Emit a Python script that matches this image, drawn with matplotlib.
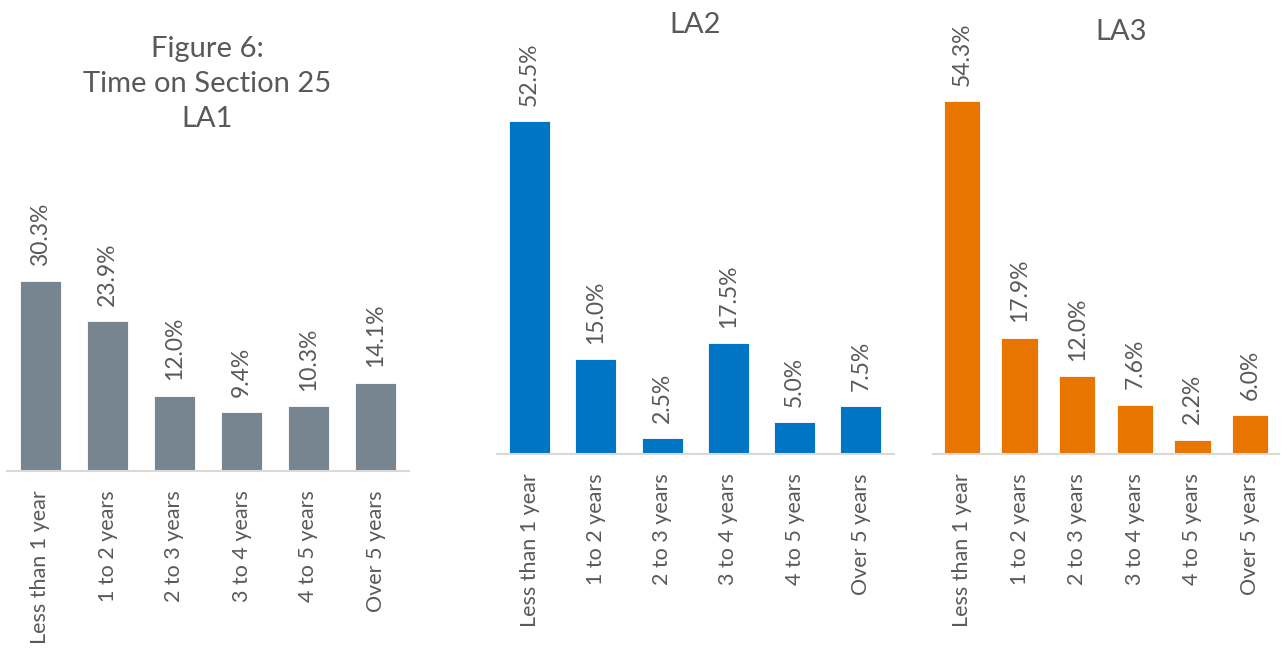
import matplotlib
matplotlib.use("Agg")
import matplotlib.pyplot as plt

categories = ["Less than 1 year", "1 to 2 years", "2 to 3 years",
              "3 to 4 years", "4 to 5 years", "Over 5 years"]
la1_values = [30.3, 23.9, 12.0, 9.4, 10.3, 14.1]
la2_values = [52.5, 15.0, 2.5, 17.5, 5.0, 7.5]
la3_values = [54.3, 17.9, 12.0, 7.6, 2.2, 6.0]

W, H = 1281, 650
fig = plt.figure(figsize=(W / 100, H / 100), dpi=100)
plt.rcParams['font.family'] = ['Lato', 'DejaVu Sans']
TXT = '#595959'

def px_axes(left, right, baseline, ppu, ymax=60):
    height = ppu * ymax
    return fig.add_axes([left / W, (H - baseline) / H, (right - left) / W, height / H])

panels = [
    (la1_values, '#778591', (7, 409, 471, 6.27), 0.625),
    (la2_values, '#0075C6', (496.5, 894, 454, 6.34), 0.62),
    (la3_values, '#E87500', (933, 1279, 454, 6.5), 0.63),
]

for vals, color, (l, r, b, ppu), bw in panels:
    ax = px_axes(l, r, b, ppu)
    x = list(range(len(categories)))
    ax.bar(x, vals, width=bw, color=color, edgecolor='white', linewidth=0.6, zorder=2)
    ax.set_xlim(-0.5, len(categories) - 0.5)
    ax.set_ylim(0, 60)
    for s in ['top', 'right', 'left']:
        ax.spines[s].set_visible(False)
    ax.spines['bottom'].set_color('#D9D9D9')
    ax.spines['bottom'].set_linewidth(1.5)
    ax.set_yticks([])
    ax.set_xticks(x)
    ax.set_xticklabels(categories, rotation=90, fontsize=15.5, color=TXT)
    ax.tick_params(axis='x', length=0, pad=14)
    for xi, v in zip(x, vals):
        ax.annotate(f"{v:.1f}%", (xi, v), xytext=(0, 11), textcoords='offset points',
                    rotation=90, ha='center', va='bottom', fontsize=16.5, color=TXT)
    ax.patch.set_alpha(0)

fig.text(207 / W, 1 - 84 / H, "Figure 6:\nTime on Section 25\nLA1", ha='center', va='center',
         fontsize=21, color=TXT, linespacing=1.42)
fig.text(695 / W, 1 - 25 / H, "LA2", ha='center', va='center', fontsize=21, color=TXT)
fig.text(1121 / W, 1 - 32 / H, "LA3", ha='center', va='center', fontsize=21, color=TXT)

fig.savefig("out.png", dpi=100)
